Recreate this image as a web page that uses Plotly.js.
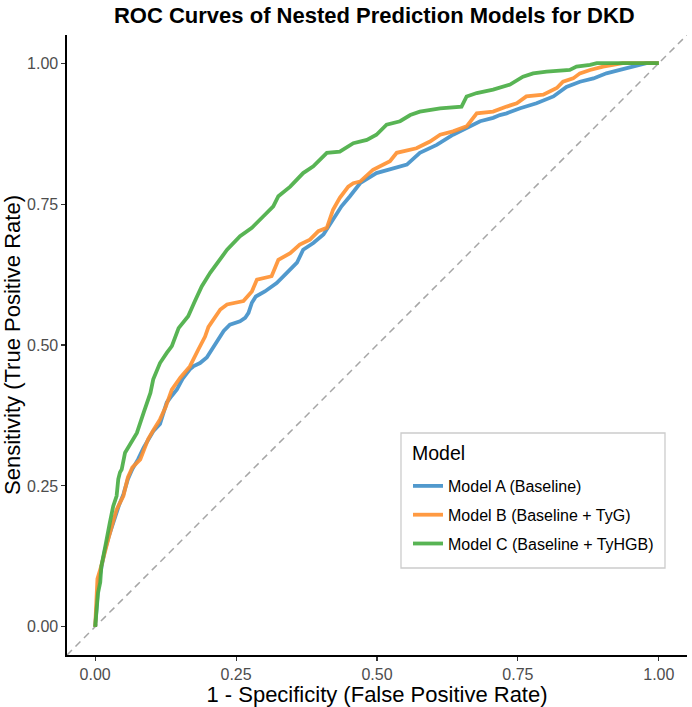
<!DOCTYPE html>
<html>
<head>
<meta charset="utf-8">
<script src="https://cdn.plot.ly/plotly-3.0.1.min.js"></script>
<style>html,body{margin:0;padding:0;background:#fff;}#chart{width:692px;height:707px;}</style>
</head>
<body>
<div id="chart"></div>
<script>
// Model A (Baseline)
var fprA = [0,0.003,0.006,0.011,0.017,0.024,0.03,0.036,0.042,0.05,0.058,0.066,0.076,0.086,0.095,0.103,0.115,0.127,0.136,0.145,0.155,0.168,0.174,0.186,0.198,0.21,0.219,0.228,0.239,0.257,0.266,0.272,0.278,0.285,0.301,0.322,0.34,0.358,0.369,0.387,0.405,0.422,0.437,0.452,0.464,0.47,0.499,0.529,0.553,0.576,0.606,0.635,0.659,0.683,0.706,0.718,0.73,0.754,0.783,0.813,0.836,0.86,0.884,0.907,0.931,0.954,0.978,1];
var tprA = [0,0.05,0.08,0.105,0.135,0.16,0.18,0.2,0.215,0.235,0.262,0.28,0.297,0.318,0.333,0.347,0.36,0.398,0.41,0.421,0.44,0.457,0.462,0.468,0.478,0.498,0.513,0.525,0.536,0.542,0.548,0.557,0.575,0.586,0.595,0.61,0.628,0.646,0.669,0.681,0.696,0.722,0.746,0.764,0.781,0.787,0.805,0.814,0.82,0.841,0.855,0.873,0.885,0.897,0.903,0.908,0.911,0.92,0.929,0.941,0.958,0.967,0.973,0.982,0.988,0.994,1.0,1];
// Model B (Baseline + TyG)
var fprB = [0,0.002,0.004,0.01,0.017,0.023,0.03,0.038,0.045,0.05,0.058,0.066,0.08,0.094,0.104,0.115,0.125,0.136,0.151,0.168,0.183,0.195,0.201,0.21,0.222,0.234,0.263,0.278,0.287,0.313,0.325,0.346,0.363,0.381,0.396,0.411,0.422,0.434,0.449,0.458,0.47,0.493,0.523,0.535,0.57,0.594,0.612,0.635,0.659,0.677,0.706,0.73,0.748,0.765,0.795,0.819,0.83,0.848,0.86,0.878,0.901,0.936,1];
var tprB = [0,0.06,0.085,0.105,0.135,0.155,0.18,0.208,0.222,0.232,0.265,0.283,0.297,0.333,0.35,0.368,0.39,0.421,0.442,0.462,0.492,0.515,0.532,0.545,0.563,0.572,0.578,0.595,0.616,0.622,0.651,0.663,0.678,0.687,0.702,0.708,0.74,0.761,0.781,0.787,0.79,0.811,0.826,0.841,0.849,0.861,0.873,0.879,0.888,0.911,0.914,0.923,0.929,0.941,0.944,0.956,0.967,0.973,0.982,0.988,0.994,1.0,1];
// Model C (Baseline + TyHGB)
var fprC = [0,0.002,0.005,0.009,0.011,0.017,0.021,0.026,0.032,0.038,0.041,0.044,0.047,0.053,0.062,0.074,0.086,0.098,0.103,0.109,0.115,0.127,0.136,0.148,0.165,0.177,0.189,0.204,0.219,0.234,0.257,0.278,0.298,0.316,0.325,0.346,0.369,0.387,0.411,0.434,0.458,0.482,0.499,0.517,0.541,0.559,0.576,0.612,0.65,0.659,0.677,0.706,0.736,0.759,0.777,0.801,0.842,0.854,0.878,0.89,1];
var tprC = [0,0.03,0.06,0.079,0.108,0.138,0.161,0.185,0.214,0.232,0.262,0.274,0.279,0.309,0.324,0.344,0.38,0.415,0.439,0.452,0.468,0.486,0.498,0.53,0.551,0.578,0.604,0.628,0.648,0.669,0.693,0.708,0.728,0.746,0.764,0.781,0.805,0.817,0.841,0.843,0.858,0.864,0.873,0.891,0.897,0.908,0.914,0.92,0.923,0.941,0.947,0.953,0.962,0.976,0.982,0.985,0.988,0.994,0.997,1.0,1];

var modelNames = ["Model A (Baseline)", "Model B (Baseline + TyG)", "Model C (Baseline + TyHGB)"];
var modelColors = ["#3E8EC8", "#FF8F2E", "#46AC41"];
var legendTitle = "Model";
var axisRange = [-0.05, 1.05];
var tickVals = [0, 0.25, 0.5, 0.75, 1];

var fprs = [fprA, fprB, fprC];
var tprs = [tprA, tprB, tprC];
var traces = [];
for (var i = 0; i < 3; i++) {
  traces.push({
    x: fprs[i], y: tprs[i], type: 'scatter', mode: 'lines',
    name: modelNames[i], legendgroup: 'g' + i,
    line: {color: modelColors[i], width: 3.8},
    opacity: 0.9,
    hoverinfo: 'skip'
  });
}

// legend frame geometry (paper units of the 620x620 plot area)
var W = 620, H = 620;
function px2x(p) { return (p - 67) / W; }
function py2y(p) { return (655 - p) / H; }

var fontFam = '"Liberation Sans", Arial, Helvetica, sans-serif';
var layout = {
  width: 692, height: 707,
  margin: {l: 67, r: 5, t: 35, b: 52},
  paper_bgcolor: '#fff', plot_bgcolor: '#fff',
  font: {family: fontFam, color: '#000'},
  title: {text: '<b>ROC Curves of Nested Prediction Models for DKD</b>', font: {size: 22, color: '#000', family: fontFam}, x: 0.541, xanchor: 'center', y: 0.978, yanchor: 'middle'},
  shapes: [
    {type: 'line', xref: 'x', yref: 'y', x0: axisRange[0], y0: axisRange[0], x1: axisRange[1], y1: axisRange[1], line: {color: '#A6A6A6', width: 1.5, dash: '7px,5px'}, layer: 'below'},
    {type: 'rect', xref: 'paper', yref: 'paper', x0: px2x(401), x1: px2x(665), y0: py2y(568), y1: py2y(433), line: {color: '#CCCCCC', width: 1.3}, fillcolor: '#FFFFFF', layer: 'above'}
  ],
  annotations: [
    {text: legendTitle, xref: 'paper', yref: 'paper', x: px2x(410), y: py2y(453), xanchor: 'left', yanchor: 'middle', showarrow: false, font: {size: 19.5, color: '#000'}}
  ],
  xaxis: {
    range: axisRange, tickvals: tickVals, tickformat: '.2f',
    showgrid: false, zeroline: false, showline: true, linecolor: '#000', linewidth: 1.6,
    ticks: 'outside', ticklen: 4, tickwidth: 1.1, tickcolor: '#333',
    tickfont: {size: 16, color: '#4D4D4D'},
    title: {text: '1 - Specificity (False Positive Rate)', font: {size: 22, color: '#000'}, standoff: 2}
  },
  yaxis: {
    range: axisRange, tickvals: tickVals, tickformat: '.2f',
    showgrid: false, zeroline: false, showline: true, linecolor: '#000', linewidth: 1.6,
    ticks: 'outside', ticklen: 4, tickwidth: 1.1, tickcolor: '#333',
    tickfont: {size: 16, color: '#4D4D4D'},
    title: {text: 'Sensitivity (True Positive Rate)', font: {size: 22, color: '#000'}, standoff: 3}
  },
  showlegend: true,
  legend: {
    x: px2x(408), xanchor: 'left', y: py2y(469), yanchor: 'top',
    bgcolor: 'rgba(0,0,0,0)', borderwidth: 0,
    font: {size: 16, color: '#000'},
    tracegroupgap: 5, traceorder: 'grouped', itemwidth: 30
  }
};

Plotly.newPlot('chart', traces, layout, {staticPlot: true, displayModeBar: false});
</script>
</body>
</html>
